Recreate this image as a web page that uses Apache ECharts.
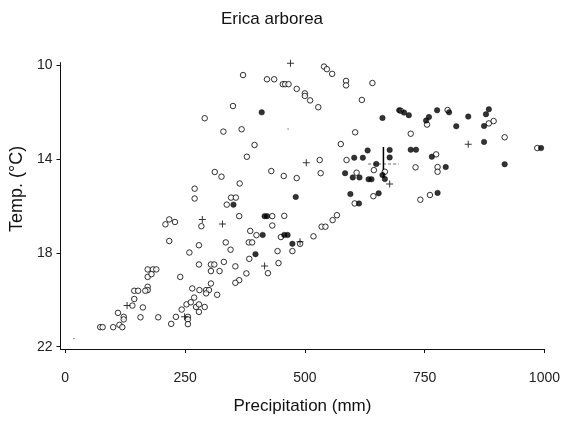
<!DOCTYPE html>
<html>
<head>
<meta charset="utf-8">
<script src="https://cdn.jsdelivr.net/npm/echarts@6/dist/echarts.min.js"></script>
<style>html,body{margin:0;padding:0;background:#fff}#c{width:563px;height:425px}</style>
</head>
<body>
<div id="c"></div>
<script>
var titleText = 'Erica arborea';
var xName = 'Precipitation (mm)';
var yName = 'Temp. (°C)';
var xTicks = [0, 250, 500, 750, 1000];
var yTicks = [10, 14, 18, 22];

// open circles [precipitation, temperature]
var openPts = [
[371,10.43],[350,11.75],[291,12.27],[330,12.84],[368,12.74],[379,13.91],[312,14.56],[326,14.76],
[364,15.05],[270,15.27],[270,15.69],[346,15.65],[356,15.65],[337,15.95],[421,10.61],[436,10.61],
[454,10.82],[459,10.82],[466,10.82],[483,11.02],[500,11.21],[500,11.32],[511,11.51],[528,11.80],
[540,10.07],[546,10.18],[557,10.38],[586,10.68],[586,10.87],[641,10.77],[619,11.49],[395,13.41],
[430,14.52],[456,14.73],[483,14.82],[531,14.05],[533,14.61],[605,12.87],[575,13.37],[587,14.05],
[700,11.95],[755,12.54],[721,12.93],[731,14.36],[644,14.48],[667,14.55],[608,14.59],[643,15.59],
[604,15.90],[741,15.74],[761,15.54],[798,11.92],[884,12.49],[894,12.39],[774,13.81],[917,13.08],
[777,14.35],[777,14.55],[985,13.54],
[363,16.44],[284,16.87],[217,16.58],[209,16.79],[229,16.69],[386,17.07],[217,17.50],[335,17.56],
[279,17.68],[383,17.56],[390,17.56],[345,17.87],[259,17.99],[384,18.26],[279,18.50],[304,18.50],
[311,18.50],[331,18.39],[355,18.58],[304,18.78],[322,18.78],[378,18.88],[172,18.71],[183,18.71],
[190,18.71],[172,19.03],[180,18.91],[240,19.03],[363,19.17],[355,19.28],[304,19.31],[144,19.62],
[152,19.62],[172,19.45],[172,19.59],[167,19.62],[265,19.52],[280,19.59],[294,19.59],[300,19.59],
[294,19.73],[317,19.79],[144,19.97],[269,19.91],[140,20.25],[162,20.33],[253,20.20],[262,20.11],
[273,20.31],[279,20.20],[291,20.31],[243,20.42],[279,20.52],[110,20.56],[122,20.73],[122,20.84],
[157,20.75],[194,20.75],[231,20.73],[256,20.73],[256,20.84],[221,21.03],[256,21.04],[73,21.17],
[78,21.17],[100,21.17],[113,21.07],[119,21.17],
[432,16.44],[457,16.43],[432,16.84],[399,17.25],[450,17.33],[490,17.62],[443,17.93],[474,17.93],
[445,18.44],[423,18.87],[518,17.30],[535,16.89],[543,16.89],[558,16.61],[567,16.40]
];

// filled circles
var filledPts = [
[351,15.95],[410,12.02],[481,15.62],[631,13.64],[603,13.95],[621,13.95],[662,12.26],[697,11.93],
[707,12.03],[717,12.14],[759,12.22],[753,12.37],[721,13.61],[732,13.61],[649,14.22],[677,13.62],
[677,13.94],[584,14.61],[600,14.79],[614,14.79],[633,14.87],[639,14.87],[662,14.69],[667,14.86],
[595,15.50],[654,15.47],[613,15.90],[776,11.93],[801,12.02],[841,12.20],[816,12.61],[884,11.89],
[878,12.10],[874,12.60],[874,13.28],[765,13.91],[794,14.35],[917,14.23],[993,13.54],[777,15.45],
[416,16.44],[421,16.44],[412,17.24],[457,17.24],[464,17.24],[474,17.62],[397,18.06]
];

// plus signs
var plusPts = [
[470,9.93],[503,14.17],[677,15.07],[841,13.38],[286,16.58],[328,16.77],[129,20.25],[249,20.73],
[416,18.56],[490,17.53]
];

// tiny dots
var dotPts = [[465,12.73],[18,21.65]];

// mean cross with error bars
var crossV = [[664,13.5],[664,14.8]];
var crossH = [[632,14.22],[696,14.22]];

var plusPath = 'path://M3,0H4V7H3Z M0,3H7V4H0Z';
var fontFam = '"Liberation Sans", Arial, sans-serif';

var chart = echarts.init(document.getElementById('c'), null, {renderer: 'canvas'});
chart.setOption({
  animation: false,
  backgroundColor: '#fff',
  title: {
    text: titleText, left: 216, top: 6,
    textStyle: {fontFamily: fontFam, fontSize: 17, fontWeight: 'normal', color: '#111'}
  },
  grid: {left: 58.5, right: 14.5, top: 62.6, bottom: 76, containLabel: false},
  xAxis: {
    type: 'value', min: -10, max: 1000,
    name: xName, nameLocation: 'middle', nameGap: 49,
    nameTextStyle: {fontFamily: fontFam, fontSize: 17, color: '#111'},
    axisLine: {show: true, onZero: false, lineStyle: {color: '#111', width: 1}},
    axisTick: {show: true, inside: false, length: 4, customValues: xTicks, lineStyle: {color: '#111'}},
    axisLabel: {customValues: xTicks, margin: 22, fontFamily: fontFam, fontSize: 14, color: '#222',
      formatter: function (v) { return String(v); }},
    splitLine: {show: false}
  },
  yAxis: {
    type: 'value', min: 9.9, max: 22.1, inverse: true,
    name: yName, nameLocation: 'middle', nameGap: 28,
    nameTextStyle: {fontFamily: fontFam, fontSize: 18, color: '#111', padding: [0, 0, 0, 34]},
    axisLine: {show: true, onZero: false, lineStyle: {color: '#111', width: 1}},
    axisTick: {show: true, inside: false, length: 4, customValues: yTicks, lineStyle: {color: '#111'}},
    axisLabel: {customValues: yTicks, margin: 8, fontFamily: fontFam, fontSize: 14, color: '#222'},
    splitLine: {show: false}
  },
  series: [
    {type: 'line', data: crossH, symbol: 'none', lineStyle: {color: '#666', width: 1, type: [3, 2]}, z: 1},
    {type: 'line', data: crossV, symbol: 'none', lineStyle: {color: '#000', width: 1.5}, z: 1},
    {type: 'scatter', data: openPts, symbol: 'circle', symbolSize: 5.5,
      itemStyle: {color: '#fff', borderColor: '#000', borderWidth: 1}, z: 2},
    {type: 'scatter', data: filledPts, symbol: 'circle', symbolSize: 5.5,
      itemStyle: {color: '#000', borderColor: '#000', borderWidth: 0.5}, z: 3},
    {type: 'scatter', data: plusPts, symbol: plusPath, symbolSize: 7,
      itemStyle: {color: '#000'}, z: 3},
    {type: 'scatter', data: dotPts, symbol: 'circle', symbolSize: 1.5,
      itemStyle: {color: '#555'}, z: 3}
  ]
});
</script>
</body>
</html>
